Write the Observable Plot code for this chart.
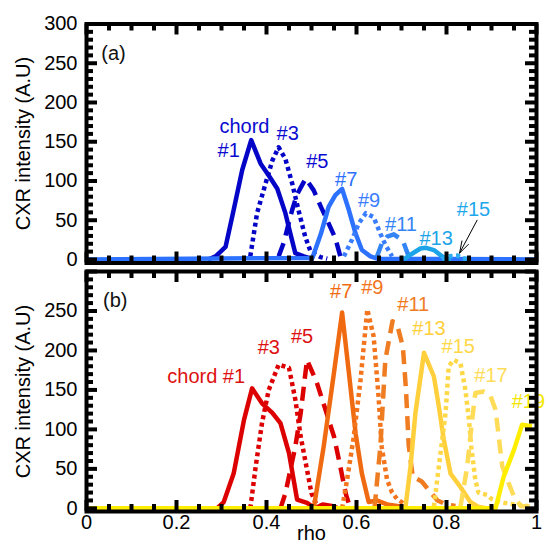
<!DOCTYPE html>
<html><head><meta charset="utf-8">
<script src="https://cdn.jsdelivr.net/npm/d3@7"></script>
<script src="https://cdn.jsdelivr.net/npm/@observablehq/plot@0.6"></script>
<style>
html,body{margin:0;padding:0;background:#fff;}
#chart{width:546px;}
#chart svg{display:block;}
</style></head><body><div id="chart"></div>
<script>
// ---------- data: panel (a) [rho, intensity] ----------
const a1  = [[0.270,0],[0.287,4],[0.309,16],[0.327,63],[0.346,114],[0.366,152],[0.387,122],[0.405,107],[0.424,90],[0.442,59],[0.453,33],[0.464,8],[0.483,4],[0.505,0]];
const a3  = [[0.364,4],[0.379,59],[0.398,97],[0.413,126],[0.427,143],[0.442,128],[0.457,97],[0.471,63],[0.486,29],[0.498,10],[0.52,3],[0.535,1]];
const a5  = [[0.427,4],[0.438,21],[0.457,63],[0.468,83],[0.487,103],[0.505,88],[0.521,67],[0.538,46],[0.553,27],[0.564,4]];
const a7  = [[0,0],[0.502,2],[0.521,33],[0.538,67],[0.553,82],[0.568,90],[0.583,63],[0.598,33],[0.612,12],[0.631,4],[0.646,1],[1,0]];
const a9  = [[0.572,4],[0.590,25],[0.605,46],[0.621,59],[0.638,54],[0.653,33],[0.664,19],[0.679,4]];
const a11 = [[0.645,3],[0.656,20],[0.668,29],[0.683,32],[0.703,24],[0.714,7],[0.73,1]];
const a13 = [[0.705,0],[0.72,6],[0.742,14],[0.753,15],[0.772,12],[0.790,4],[0.80,1],[0.81,0]];
const a15 = [[0.79,0],[0.801,4],[0.824,5],[0.835,2],[0.85,0]];

// ---------- data: panel (b) ----------
const b1  = [[0.29,0],[0.305,8],[0.327,44],[0.350,112],[0.368,152],[0.390,133],[0.413,121],[0.431,108],[0.450,70],[0.468,11],[0.490,7],[0.508,0],[0.525,5],[0.545,3],[0.56,0]];
const b3  = [[0.364,0],[0.376,53],[0.390,108],[0.405,150],[0.427,182],[0.450,178],[0.464,138],[0.476,91],[0.490,49],[0.500,19],[0.510,6],[0.525,2]];
const b5  = [[0.431,0],[0.442,19],[0.464,78],[0.476,121],[0.490,188],[0.512,159],[0.531,125],[0.550,91],[0.564,53],[0.576,19],[0.585,2]];
const b7  = [[0.505,0],[0.527,78],[0.550,172],[0.568,248],[0.583,172],[0.598,95],[0.612,44],[0.627,8],[0.645,10],[0.668,5],[0.69,3],[0.71,0]];
const b9  = [[0.568,0],[0.579,36],[0.594,91],[0.609,163],[0.624,252],[0.638,218],[0.649,142],[0.656,78],[0.668,36],[0.679,20],[0.69,12],[0.71,4]];
const b11 = [[0.640,0],[0.653,78],[0.664,188],[0.680,237],[0.691,231],[0.703,205],[0.710,150],[0.716,80],[0.725,40],[0.745,34],[0.765,20],[0.78,10],[0.8,5],[0.82,3]];
const b13 = [[0.709,2],[0.72,53],[0.731,121],[0.750,197],[0.772,167],[0.783,129],[0.794,87],[0.809,44],[0.831,27],[0.853,8],[0.87,2],[0.89,0]];
const b15 = [[0.772,2],[0.783,53],[0.798,121],[0.805,180],[0.816,188],[0.831,184],[0.842,150],[0.85,112],[0.855,78],[0.864,36],[0.871,20],[0.89,17],[0.9,12],[0.92,8],[0.937,6],[0.95,5],[0.98,3]];
const b17 = [[0.831,2],[0.846,53],[0.857,112],[0.864,146],[0.883,148],[0.898,142],[0.909,125],[0.916,91],[0.924,53],[0.938,32],[0.95,15],[0.965,3],[1.0,2]];
const b19 = [[0,0],[0.909,0],[0.927,40],[0.950,74],[0.968,106],[0.99,104]];

// ---------- labels (text, rho, intensity) ----------
const aLabels = [
  ["(a)", 0.06, 262], ["chord", 0.351, 169], ["#1", 0.316, 139], ["#3", 0.447, 160],
  ["#5", 0.513, 125], ["#7", 0.577, 102], ["#9", 0.628, 75], ["#11", 0.699, 45],
  ["#13", 0.777, 26], ["#15", 0.860, 64]
];
const bLabels = [
  ["(b)", 0.064, 263], ["chord #1", 0.266, 167], ["#3", 0.405, 203], ["#5", 0.479, 217],
  ["#7", 0.566, 275], ["#9", 0.635, 280], ["#11", 0.726, 258], ["#13", 0.761, 228],
  ["#15", 0.826, 205], ["#17", 0.899, 168], ["#19", 0.982, 135]
];
const aArrow = [[0.868, 50, 0.829, 8]]; // arrow for #15: from (rho,I) to (rho,I)

const xTickLabels = [0, 0.2, 0.4, 0.6, 0.8, 1];
const yTickLabelsA = [0, 50, 100, 150, 200, 250, 300];
const yTickLabelsB = [0, 50, 100, 150, 200, 250];
const yTitle = "CXR intensity (A.U)";
const xTitle = "rho";

// ---------- styles ----------
const FONT = "'Liberation Sans', Arial, Helvetica, sans-serif";
const DOT = "4,3.5", DASH = "14,8";
const aSeries = [
  {data: a1, color: "#0505c8", dash: null},
  {data: a3, color: "#0505c8", dash: DOT},
  {data: a5, color: "#0505c8", dash: DASH},
  {data: a7, color: "#2c72ff", dash: null},
  {data: a9, color: "#3a7eff", dash: DOT},
  {data: a11, color: "#3384f5", dash: DASH},
  {data: a13, color: "#1da4e8", dash: null},
  {data: a15, color: "#2aaeef", dash: DOT}
];
const aLabelColors = ["#111", "#0a0ad0", "#0a0ad0", "#0a0ad0", "#0a0ad0", "#2c72ff", "#3a7eff", "#3384f5", "#1da4e8", "#1ea8ec"];
const bSeries = [
  {data: b1, color: "#dd0000", dash: null},
  {data: b3, color: "#dd0000", dash: DOT},
  {data: b5, color: "#dd0000", dash: DASH},
  {data: b7, color: "#f06a12", dash: null},
  {data: b9, color: "#f2741c", dash: DOT},
  {data: b11, color: "#f07c22", dash: DASH},
  {data: b13, color: "#ffd03c", dash: null},
  {data: b15, color: "#ffd848", dash: DOT},
  {data: b17, color: "#ffdc58", dash: DASH},
  {data: b19, color: "#ffee00", dash: null}
];
const bLabelColors = ["#111", "#dd1111", "#dd1111", "#dd1111", "#f06a12", "#f2741c", "#f07c22", "#ffd03c", "#ffd848", "#ffdc58", "#f2e600"];

const xMinor = d3.range(21).map(i => i / 20).filter((v, i) => i % 4 !== 0);
const xMajor = xTickLabels;
const yMinor = d3.range(0, 301, 10).filter(v => v % 50 !== 0);
const yMajor = d3.range(0, 301, 50);

const W = 546, ML = 86, MR = 10;
const TICK_COLOR = "black";

function panel({series, labels, labelColors, arrows, height, marginTop, marginBottom, yDomain, yTicks, showX}) {
  const plotW = W - ML - MR;
  const plotH = height - marginTop - marginBottom;
  const [y0, y1] = yDomain;
  const pyu = plotH / (y1 - y0);   // pixels per intensity unit
  const pxu = plotW / 1;           // pixels per rho unit
  const marks = [];
  for (const s of series) {
    marks.push(Plot.line(s.data, {x: d => d[0], y: d => d[1], stroke: s.color, strokeWidth: 4.5, strokeDasharray: s.dash, strokeLinecap: "butt", strokeLinejoin: "round"}));
  }
  if (arrows) {
    marks.push(Plot.arrow(arrows, {x1: d => d[0], y1: d => d[1], x2: d => d[2], y2: d => d[3], stroke: "black", strokeWidth: 1, headLength: 20, headAngle: 34}));
  }
  marks.push(Plot.text(labels, {x: d => d[1], y: d => d[2], text: d => d[0], fill: (d, i) => labelColors[i], fontSize: 20}));
  const tk = {stroke: TICK_COLOR, strokeWidth: 4};
  const minL = 7, majL = 11;
  for (const [vals, L] of [[xMinor, minL], [xMajor, majL]]) {
    marks.push(Plot.ruleX(vals, {x: d => d, y1: y1, y2: y1 - L / pyu, ...tk}));
    marks.push(Plot.ruleX(vals, {x: d => d, y1: y0, y2: y0 + L / pyu, ...tk}));
  }
  for (const [vals, L] of [[yMinor, minL], [yMajor, majL]]) {
    marks.push(Plot.ruleY(vals, {y: d => d, x1: 0, x2: L / pxu, ...tk}));
    marks.push(Plot.ruleY(vals, {y: d => d, x1: 1, x2: 1 - L / pxu, ...tk}));
  }
  marks.push(Plot.frame({stroke: "black", strokeWidth: 4}));
  marks.push(Plot.axisY({ticks: yTicks, tickSize: 0, tickPadding: 9, fontSize: 20, label: null}));
  marks.push(Plot.text([yTitle], {frameAnchor: "left", dx: -63, rotate: -90, textAnchor: "middle", lineAnchor: "middle", text: d => d, fontSize: 20}));
  if (showX) {
    marks.push(Plot.axisX({ticks: xTickLabels, tickFormat: d => String(d), tickSize: 0, tickPadding: 3, fontSize: 20, label: null}));
    marks.push(Plot.text([xTitle], {frameAnchor: "bottom", dy: 28, textAnchor: "middle", text: d => d, fontSize: 20}));
  }
  return Plot.plot({
    width: W, height, marginLeft: ML, marginRight: MR, marginTop, marginBottom,
    style: {fontFamily: FONT, color: "black", background: "white", overflow: "visible"},
    x: {domain: [0, 1], axis: showX ? undefined : null},
    y: {domain: yDomain},
    marks
  });
}

const panelA = panel({series: aSeries, labels: aLabels, labelColors: aLabelColors, arrows: aArrow,
  height: 266, marginTop: 23.5, marginBottom: 3.5, yDomain: [-4.5, 300], yTicks: yTickLabelsA, showX: false});
const panelB = panel({series: bSeries, labels: bLabels, labelColors: bLabelColors, arrows: null,
  height: 281, marginTop: 5, marginBottom: 36, yDomain: [-4, 300], yTicks: yTickLabelsB, showX: true});
document.getElementById("chart").append(panelA, panelB);
</script></body></html>
